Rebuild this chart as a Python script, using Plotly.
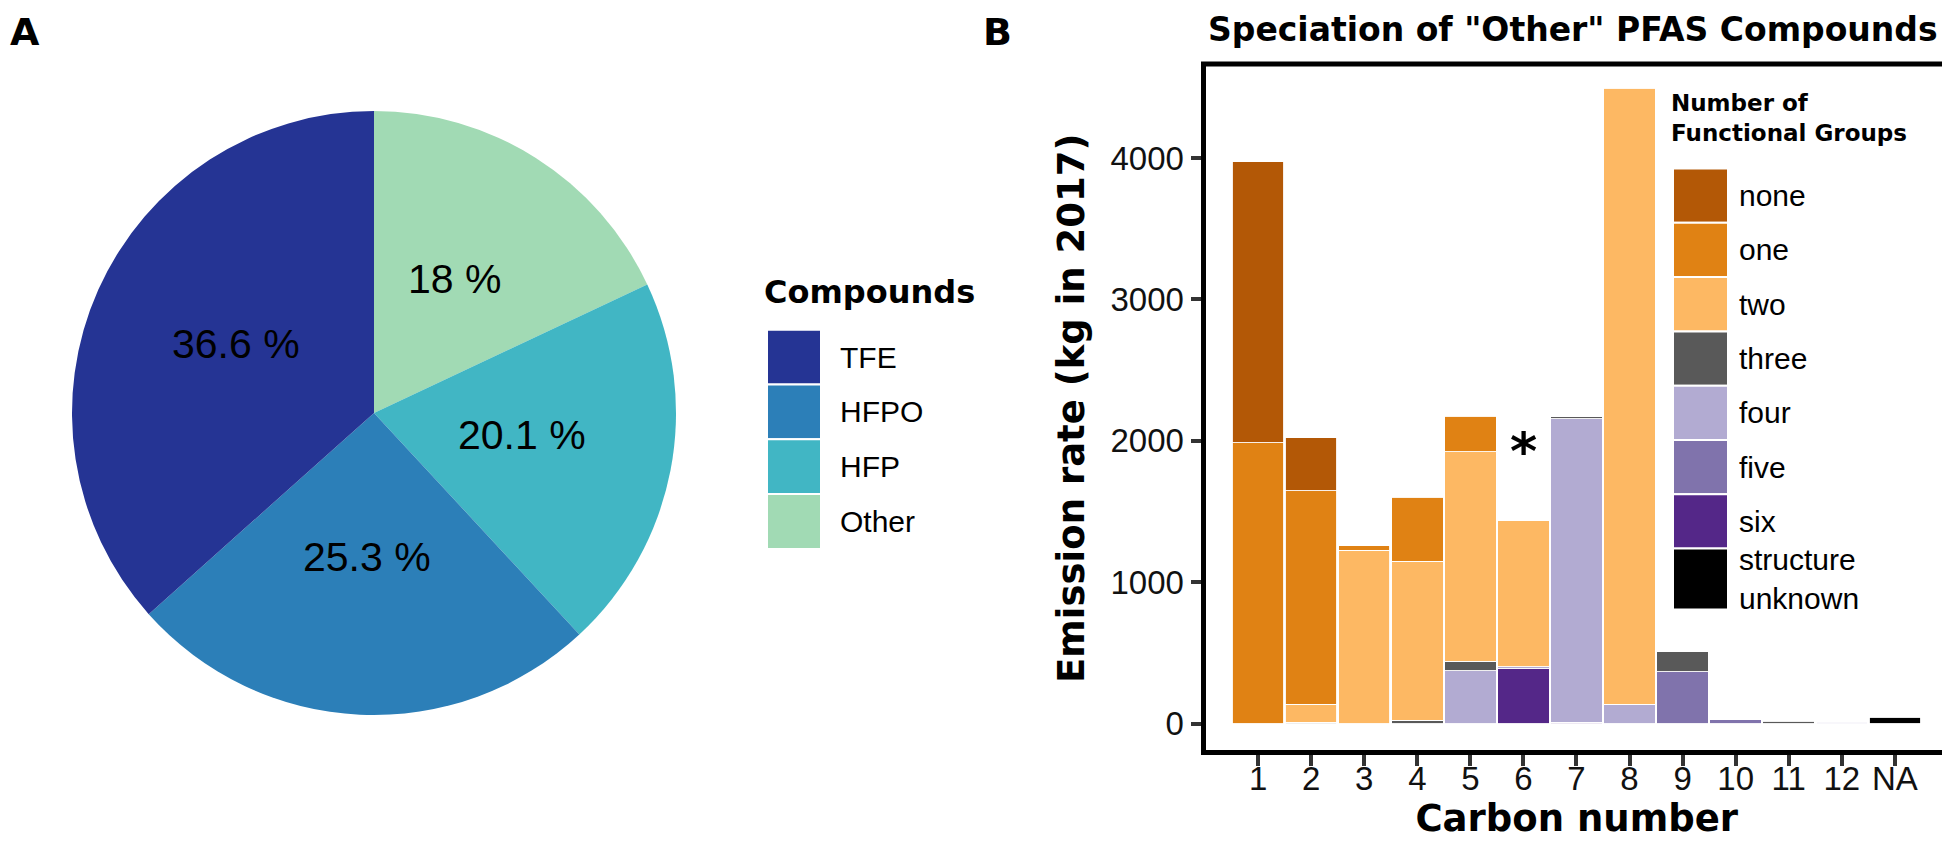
import math
import plotly.graph_objects as go

# ---------------- data ----------------
compounds = ["TFE", "HFPO", "HFP", "Other"]
compound_pct = [36.6, 25.3, 20.1, 18.0]
compound_colors = ["#253494", "#2C7FB8", "#41B6C4", "#A1DAB4"]

carbon = ["1", "2", "3", "4", "5", "6", "7", "8", "9", "10", "11", "12", "NA"]
group_names = ["none", "one", "two", "three", "four", "five", "six", "structure unknown"]
group_colors = ["#B35806", "#E08214", "#FDB863", "#595959", "#B2ABD2", "#8073AC", "#542788", "#000000"]
none_vals = [1986, 375, 0, 0, 0, 0, 0, 0, 0, 0, 0, 0, 0]
one_vals = [1988, 1509, 33, 451, 251, 0, 0, 0, 0, 0, 0, 0, 0]
two_vals = [0, 128, 1226, 1126, 1481, 1034, 0, 4355, 0, 0, 0, 0, 0]
three_vals = [0, 10, 0, 24, 66, 0, 12, 0, 141, 0, 17, 0, 0]
four_vals = [0, 0, 0, 0, 375, 12, 2148, 137, 0, 0, 0, 10, 0]
five_vals = [0, 0, 0, 0, 0, 0, 0, 0, 366, 26, 0, 0, 0]
six_vals = [0, 0, 0, 0, 0, 389, 10, 0, 0, 0, 0, 0, 0]
unknown_vals = [0, 0, 0, 0, 0, 0, 0, 0, 0, 0, 0, 0, 47]
group_values = [none_vals, one_vals, two_vals, three_vals, four_vals, five_vals, six_vals, unknown_vals]
y_ticks = [0, 1000, 2000, 3000, 4000]
starred_carbon = "6"
star_height = 1925

# ---------------- layout helpers ----------------
W, H = 1950, 845


def px(x):
    return x / W


def py(y):
    return 1 - y / H


BOLD = "DejaVu Sans"
REG = "Liberation Sans, Arial, sans-serif"

PIE_X0, PIE_X1, PIE_Y0, PIE_Y1 = 64, 668, 103, 707   # pixel box of the pie domain

fig = go.Figure()

# Pie (panel A): slices run clockwise from 12 o'clock in reverse legend order,
# so TFE ends at 12 o'clock on the left side as in the reference.
pie_order = list(range(len(compounds)))[::-1]
fig.add_trace(go.Pie(
    labels=[compounds[i] for i in pie_order],
    values=[compound_pct[i] for i in pie_order],
    textinfo="none",
    marker=dict(colors=[compound_colors[i] for i in pie_order], line=dict(width=0)),
    sort=False,
    direction="clockwise",
    rotation=0,
    domain=dict(x=[px(PIE_X0), px(PIE_X1)], y=[py(PIE_Y1), py(PIE_Y0)]),
    showlegend=False,
    hoverinfo="label+percent",
))

shapes = []
annotations = []

# pie slice labels, placed at mid-angle, half radius (as ggplot's coord_polar labels)
cx, cy = (PIE_X0 + PIE_X1) / 2, (PIE_Y0 + PIE_Y1) / 2
radius = min(PIE_X1 - PIE_X0, PIE_Y1 - PIE_Y0) / 2
total = sum(compound_pct)
start = 0.0
for i in pie_order:
    frac = compound_pct[i] / total
    mid = (start + frac / 2) * 2 * math.pi
    start += frac
    lx = cx + 0.5 * radius * math.sin(mid)
    ly = cy - 0.5 * radius * math.cos(mid)
    annotations.append(dict(x=px(lx), y=py(ly), xref="paper", yref="paper",
                            text=f"{compound_pct[i]:g} %", showarrow=False,
                            xanchor="center", yanchor="middle", yshift=7,
                            font=dict(family=REG, size=41, color="black")))

# Stacked bars (panel B): bottom of stack = last group
for name, color, vals in reversed(list(zip(group_names, group_colors, group_values))):
    fig.add_trace(go.Bar(
        x=carbon,
        y=[v if v > 0 else None for v in vals],
        name=name,
        marker=dict(color=color, line=dict(color="white", width=0.9)),
        showlegend=False,
        xaxis="x", yaxis="y",
    ))

# panel border
shapes.append(dict(type="rect", xref="x domain", yref="y domain", x0=0, x1=1, y0=0, y1=1,
                   line=dict(color="black", width=5), layer="above"))

# star annotation (category axis: position by index)
annotations.append(dict(x=carbon.index(starred_carbon), y=star_height, xref="x", yref="y", text="*",
                        showarrow=False,
                        font=dict(family=BOLD, size=52, color="black", weight="bold"),
                        xanchor="center", yanchor="middle"))

# panel letters and title
annotations.append(dict(x=0, y=1, xref="paper", yref="paper", text="A", showarrow=False,
                        xanchor="left", yanchor="top",
                        font=dict(family=BOLD, size=38, color="black", weight="bold")))
annotations.append(dict(x=px(973), y=1, xref="paper", yref="paper", text="B", showarrow=False,
                        xanchor="left", yanchor="top",
                        font=dict(family=BOLD, size=38, color="black", weight="bold")))
annotations.append(dict(x=px(1565), y=1, xref="paper", yref="paper",
                        text='Speciation of "Other" PFAS Compounds', showarrow=False,
                        xanchor="center", yanchor="top",
                        font=dict(family=BOLD, size=33, color="black", weight="bold")))

# Pie legend
annotations.append(dict(x=px(754), y=py(284), xref="paper", yref="paper", text="Compounds",
                        showarrow=False, xanchor="left", yanchor="middle",
                        font=dict(family=BOLD, size=32, color="black", weight="bold")))
pie_top, pie_pitch = 321.7, 54.8
for i, (name, color) in enumerate(zip(compounds, compound_colors)):
    y0 = pie_top + i * pie_pitch
    y1 = y0 + pie_pitch
    shapes.append(dict(type="rect", xref="paper", yref="paper", x0=px(759), x1=px(813),
                       y0=py(y1), y1=py(y0), fillcolor=color, line=dict(color="white", width=2)))
    annotations.append(dict(x=px(830), y=py((y0 + y1) / 2), xref="paper", yref="paper", text=name,
                            showarrow=False, xanchor="left", yanchor="middle",
                            font=dict(family=REG, size=30, color="black")))

# Bar legend
annotations.append(dict(x=px(1661), y=py(110), xref="paper", yref="paper",
                        text="Number of<br>Functional Groups", showarrow=False, align="left",
                        xanchor="left", yanchor="middle",
                        font=dict(family=BOLD, size=23, color="black", weight="bold")))
bar_top, bar_pitch = 160.5, 54.3
for i, (name, color) in enumerate(zip(group_names, group_colors)):
    y0 = bar_top + i * bar_pitch
    y1 = y0 + (bar_pitch if i < len(group_names) - 1 else 61)
    shapes.append(dict(type="rect", xref="paper", yref="paper", x0=px(1665), x1=px(1720),
                       y0=py(y1), y1=py(y0), fillcolor=color, line=dict(color="white", width=2)))
    annotations.append(dict(x=px(1729), y=py((y0 + y1) / 2), xref="paper", yref="paper",
                            text=name.replace(" ", "<br>"), showarrow=False, align="left",
                            xanchor="left", yanchor="middle",
                            font=dict(family=REG, size=30, color="black")))

fig.update_layout(
    width=W, height=H,
    margin=dict(l=0, r=0, t=0, b=0),
    paper_bgcolor="white", plot_bgcolor="white",
    barmode="stack", bargap=0.03,
    showlegend=False,
    shapes=shapes,
    annotations=annotations,
    xaxis=dict(
        domain=[px(1195.5), px(1942)],
        type="category", categoryorder="array", categoryarray=carbon,
        range=[-1.03, 13.04],
        showgrid=False, zeroline=False, showline=False,
        ticks="outside", ticklen=12, tickwidth=4, tickcolor="#333333",
        ticklabelstandoff=-15,
        tickfont=dict(family=REG, size=33, color="#111111"),
        title=dict(text="Carbon number", standoff=2,
                   font=dict(family=BOLD, size=37, color="black", weight="bold")),
        automargin=False, fixedrange=True,
    ),
    yaxis=dict(
        domain=[py(744.5), py(56)],
        range=[-204, 4665],
        tickvals=y_ticks, ticktext=[str(t) for t in y_ticks],
        showgrid=False, zeroline=False, showline=False,
        ticks="outside", ticklen=12, tickwidth=4, tickcolor="#333333",
        tickfont=dict(family=REG, size=33, color="#111111"),
        title=dict(text="Emission rate (kg in 2017)", standoff=14,
                   font=dict(family=BOLD, size=37, color="black", weight="bold")),
        automargin=False, fixedrange=True,
    ),
)

fig.write_html("out.html")
